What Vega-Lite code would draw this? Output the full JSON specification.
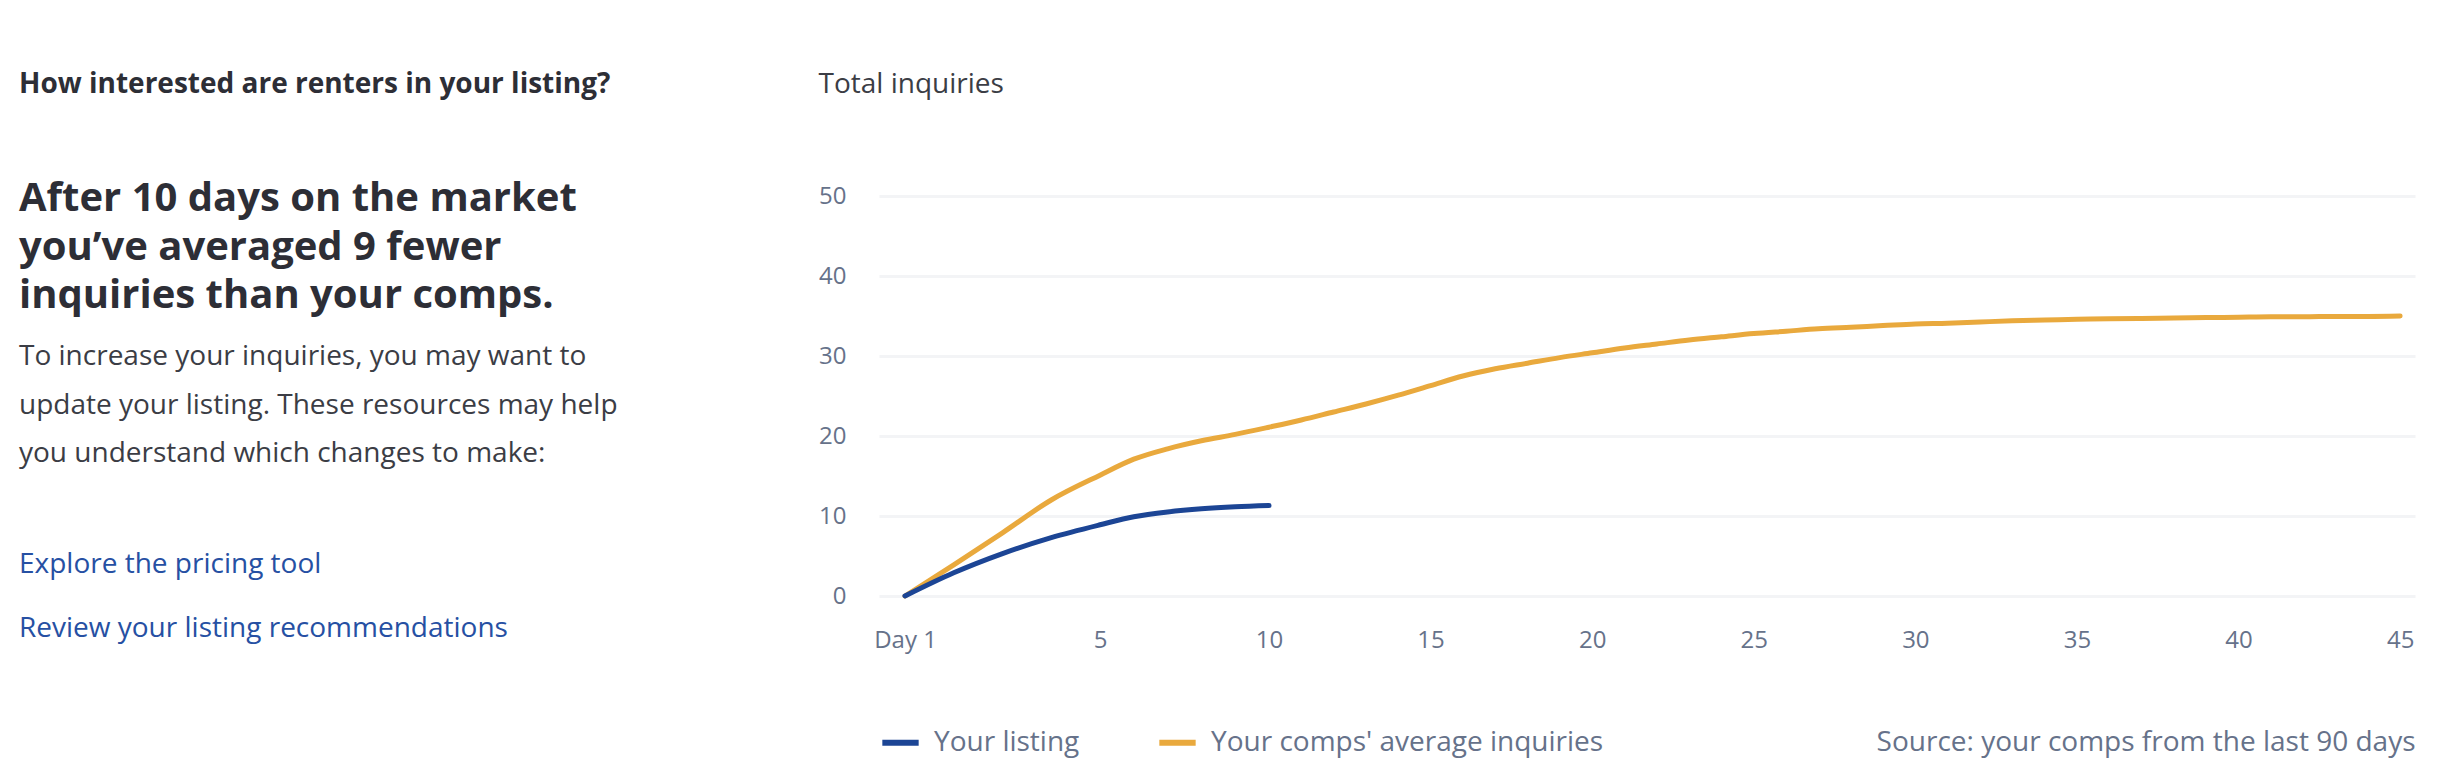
{
  "$schema": "https://vega.github.io/schema/vega-lite/v6.json",
  "padding": {"left": 19, "top": 71, "right": 30, "bottom": 10},
  "background": "white",
  "config": {"font": "Open Sans", "view": {"stroke": null}},
  "datasets": {
    "copy": [
      {"block": "headline", "line": 1, "text": "After 10 days on the market"},
      {"block": "headline", "line": 2, "text": "you’ve averaged 9 fewer"},
      {"block": "headline", "line": 3, "text": "inquiries than your comps."},
      {"block": "body", "line": 4, "text": "To increase your inquiries, you may want to"},
      {"block": "body", "line": 5, "text": "update your listing. These resources may help"},
      {"block": "body", "line": 6, "text": "you understand which changes to make:"}
    ],
    "links": [
      {"order": 1, "text": "Explore the pricing tool"},
      {"order": 2, "text": "Review your listing recommendations"}
    ],
    "inquiries": [
      {"series": "Your listing", "day": 1, "inquiries": 0},
      {"series": "Your listing", "day": 2, "inquiries": 2.9},
      {"series": "Your listing", "day": 3, "inquiries": 5.3},
      {"series": "Your listing", "day": 4, "inquiries": 7.3},
      {"series": "Your listing", "day": 5, "inquiries": 8.9},
      {"series": "Your listing", "day": 6, "inquiries": 9.9},
      {"series": "Your listing", "day": 7, "inquiries": 10.5},
      {"series": "Your listing", "day": 8, "inquiries": 10.9},
      {"series": "Your listing", "day": 9, "inquiries": 11.15},
      {"series": "Your listing", "day": 10, "inquiries": 11.3},
      {"series": "Your comps' average inquiries", "day": 1, "inquiries": 0},
      {"series": "Your comps' average inquiries", "day": 2, "inquiries": 3.9},
      {"series": "Your comps' average inquiries", "day": 3, "inquiries": 7.9},
      {"series": "Your comps' average inquiries", "day": 4, "inquiries": 12.0},
      {"series": "Your comps' average inquiries", "day": 5, "inquiries": 15.1},
      {"series": "Your comps' average inquiries", "day": 6, "inquiries": 17.1},
      {"series": "Your comps' average inquiries", "day": 7, "inquiries": 18.4},
      {"series": "Your comps' average inquiries", "day": 8, "inquiries": 19.4},
      {"series": "Your comps' average inquiries", "day": 9, "inquiries": 20.2},
      {"series": "Your comps' average inquiries", "day": 10, "inquiries": 21.1},
      {"series": "Your comps' average inquiries", "day": 11, "inquiries": 22.0},
      {"series": "Your comps' average inquiries", "day": 12, "inquiries": 23.0},
      {"series": "Your comps' average inquiries", "day": 13, "inquiries": 24.0},
      {"series": "Your comps' average inquiries", "day": 14, "inquiries": 25.1},
      {"series": "Your comps' average inquiries", "day": 15, "inquiries": 26.3},
      {"series": "Your comps' average inquiries", "day": 16, "inquiries": 27.5},
      {"series": "Your comps' average inquiries", "day": 17, "inquiries": 28.4},
      {"series": "Your comps' average inquiries", "day": 18, "inquiries": 29.1},
      {"series": "Your comps' average inquiries", "day": 19, "inquiries": 29.8},
      {"series": "Your comps' average inquiries", "day": 20, "inquiries": 30.4},
      {"series": "Your comps' average inquiries", "day": 21, "inquiries": 31.0},
      {"series": "Your comps' average inquiries", "day": 22, "inquiries": 31.5},
      {"series": "Your comps' average inquiries", "day": 23, "inquiries": 32.0},
      {"series": "Your comps' average inquiries", "day": 24, "inquiries": 32.4},
      {"series": "Your comps' average inquiries", "day": 25, "inquiries": 32.8},
      {"series": "Your comps' average inquiries", "day": 26, "inquiries": 33.1},
      {"series": "Your comps' average inquiries", "day": 27, "inquiries": 33.4},
      {"series": "Your comps' average inquiries", "day": 28, "inquiries": 33.6},
      {"series": "Your comps' average inquiries", "day": 29, "inquiries": 33.8},
      {"series": "Your comps' average inquiries", "day": 30, "inquiries": 34.0},
      {"series": "Your comps' average inquiries", "day": 31, "inquiries": 34.1},
      {"series": "Your comps' average inquiries", "day": 32, "inquiries": 34.25},
      {"series": "Your comps' average inquiries", "day": 33, "inquiries": 34.4},
      {"series": "Your comps' average inquiries", "day": 34, "inquiries": 34.5},
      {"series": "Your comps' average inquiries", "day": 35, "inquiries": 34.6},
      {"series": "Your comps' average inquiries", "day": 36, "inquiries": 34.65},
      {"series": "Your comps' average inquiries", "day": 37, "inquiries": 34.7},
      {"series": "Your comps' average inquiries", "day": 38, "inquiries": 34.75},
      {"series": "Your comps' average inquiries", "day": 39, "inquiries": 34.8},
      {"series": "Your comps' average inquiries", "day": 40, "inquiries": 34.85},
      {"series": "Your comps' average inquiries", "day": 41, "inquiries": 34.9},
      {"series": "Your comps' average inquiries", "day": 42, "inquiries": 34.9},
      {"series": "Your comps' average inquiries", "day": 43, "inquiries": 34.95},
      {"series": "Your comps' average inquiries", "day": 44, "inquiries": 34.95},
      {"series": "Your comps' average inquiries", "day": 45, "inquiries": 35.0}
    ]
  },
  "resolve": {
    "scale": {"x": "independent", "y": "independent", "color": "independent"},
    "legend": {"color": "independent"}
  },
  "spacing": 99,
  "hconcat": [
    {
      "spacing": 65,
      "resolve": {"scale": {"x": "independent", "y": "independent"}},
      "vconcat": [
        {
          "title": {
            "text": "How interested are renters in your listing?",
            "anchor": "start",
            "fontSize": 28,
            "fontWeight": "bold",
            "color": "#2d2e36",
            "offset": 80
          },
          "width": 700,
          "height": 262,
          "data": {"name": "copy"},
          "encoding": {
            "x": {"datum": 0, "type": "quantitative", "scale": {"domain": [0, 1]}, "axis": null},
            "y": {"field": "line", "type": "quantitative", "scale": {"domain": [1, 3, 4, 6], "range": [3, 100, 161, 258], "nice": false, "zero": false}, "axis": null},
            "text": {"field": "text"}
          },
          "layer": [
            {
              "transform": [{"filter": "datum.block === 'headline'"}],
              "mark": {"type": "text", "align": "left", "baseline": "middle", "fontSize": 40, "fontWeight": "bold", "color": "#2d2e36"}
            },
            {
              "transform": [{"filter": "datum.block === 'body'"}],
              "mark": {"type": "text", "align": "left", "baseline": "middle", "fontSize": 28, "color": "#3b3d45"}
            }
          ]
        },
        {
          "width": 700,
          "height": 128,
          "data": {"name": "links"},
          "mark": {"type": "text", "align": "left", "baseline": "middle", "fontSize": 28, "color": "#2650a3"},
          "encoding": {
            "x": {"datum": 0, "type": "quantitative", "scale": {"domain": [0, 1]}, "axis": null},
            "y": {"field": "order", "type": "ordinal", "scale": {"type": "point", "padding": 0.5}, "axis": null},
            "text": {"field": "text"}
          }
        }
      ]
    },
    {
      "title": {
        "text": "Total inquiries",
        "anchor": "start",
        "frame": "bounds",
        "fontSize": 28,
        "fontWeight": "normal",
        "color": "#3b3d45",
        "offset": 85
      },
      "width": 1536,
      "height": 400,
      "data": {"name": "inquiries"},
      "encoding": {
        "x": {
          "field": "day",
          "type": "quantitative",
          "scale": {"domain": [0.467, 5, 10, 45.46], "range": [0, 221, 390, 1536], "nice": false, "zero": false},
          "axis": {
            "values": [1, 5, 10, 15, 20, 25, 30, 35, 40, 45],
            "labelExpr": "datum.value == 1 ? 'Day 1' : datum.label",
            "ticks": false,
            "domain": false,
            "grid": false,
            "labelFlush": false,
            "labelOverlap": false,
            "labelFontSize": 24,
            "labelColor": "#66728a",
            "labelPadding": 32,
            "title": "Source: your comps from the last 90 days",
            "titleAnchor": "end",
            "titleFontSize": 28,
            "titleFontWeight": "normal",
            "titleColor": "#66728a",
            "titlePadding": 76
          }
        },
        "y": {
          "field": "inquiries",
          "type": "quantitative",
          "scale": {"domain": [0, 50], "nice": false},
          "axis": {
            "values": [0, 10, 20, 30, 40, 50],
            "ticks": false,
            "domain": false,
            "grid": true,
            "gridColor": "#f3f4f6",
            "gridWidth": 3,
            "labelFontSize": 24,
            "labelColor": "#66728a",
            "labelPadding": 33,
            "title": null
          }
        },
        "color": {
          "field": "series",
          "type": "nominal",
          "scale": {"domain": ["Your listing", "Your comps' average inquiries"], "range": ["#1c4595", "#e9a93d"]},
          "legend": {
            "orient": "bottom",
            "direction": "horizontal",
            "title": null,
            "symbolType": "stroke",
            "symbolStrokeWidth": 6,
            "symbolSize": 1320,
            "labelFontSize": 28,
            "labelColor": "#66728a",
            "labelOffset": 12,
            "columnPadding": 67,
            "labelLimit": 0,
            "offset": -35
          }
        }
      },
      "layer": [
        {
          "transform": [{"filter": "datum.series !== 'Your listing'"}],
          "mark": {"type": "line", "strokeWidth": 5, "interpolate": "monotone", "strokeCap": "round"}
        },
        {
          "transform": [{"filter": "datum.series === 'Your listing'"}],
          "mark": {"type": "line", "strokeWidth": 5, "interpolate": "monotone", "strokeCap": "round"}
        }
      ]
    }
  ]
}
